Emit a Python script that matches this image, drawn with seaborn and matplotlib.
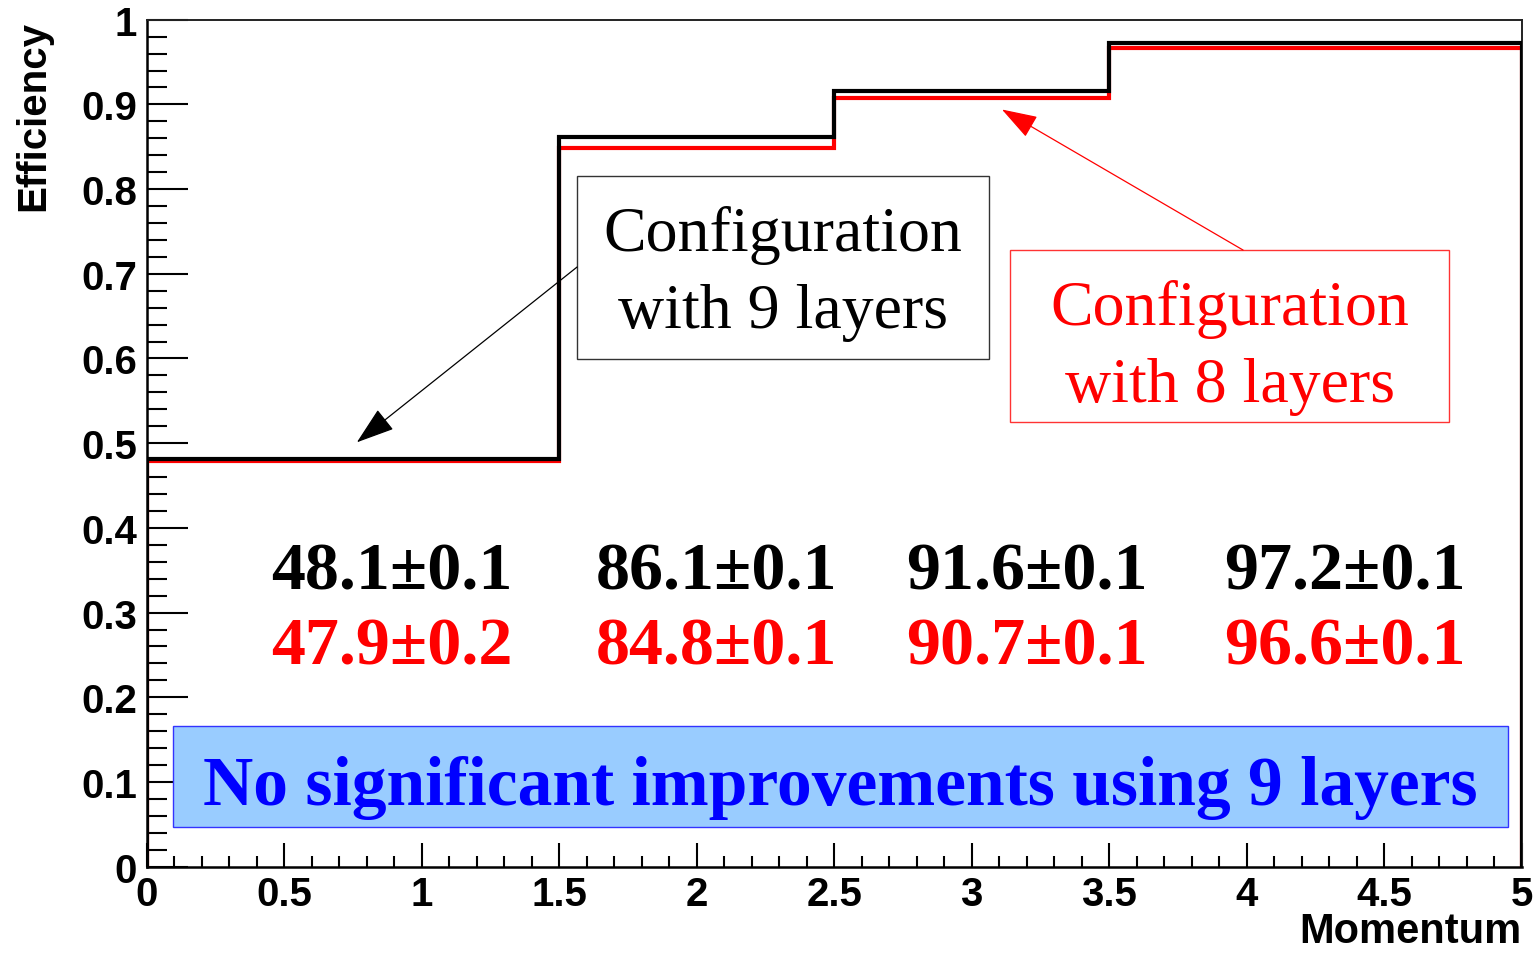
import numpy as np
import pandas as pd
import matplotlib
matplotlib.use("Agg")
import matplotlib.pyplot as plt
from matplotlib.patches import Rectangle
import seaborn as sns

# ---- data ----
bin_edges = [0.0, 1.5, 2.5, 3.5, 5.0]
eff_9layers = [0.481, 0.861, 0.916, 0.972]
eff_8layers = [0.479, 0.848, 0.907, 0.966]
err_9layers = [0.1, 0.1, 0.1, 0.1]
err_8layers = [0.2, 0.1, 0.1, 0.1]
x_ticks = [0, 0.5, 1, 1.5, 2, 2.5, 3, 3.5, 4, 4.5, 5]
x_tick_labels = ["0", "0.5", "1", "1.5", "2", "2.5", "3", "3.5", "4", "4.5", "5"]
y_ticks = [0, 0.1, 0.2, 0.3, 0.4, 0.5, 0.6, 0.7, 0.8, 0.9, 1.0]
y_tick_labels = ["0", "0.1", "0.2", "0.3", "0.4", "0.5", "0.6", "0.7", "0.8", "0.9", "1"]

sns.set_theme(style="white")
plt.rcParams["font.family"] = ["Liberation Sans", "DejaVu Sans"]
plt.rcParams["text.color"] = "black"
plt.rcParams["axes.labelcolor"] = "black"
plt.rcParams["xtick.color"] = "black"
plt.rcParams["ytick.color"] = "black"
plt.rcParams["xtick.labelcolor"] = "black"
plt.rcParams["ytick.labelcolor"] = "black"

SERIF = ["Liberation Serif", "DejaVu Serif"]


def hist_outline(edges, vals):
    edges = np.asarray(edges, float)
    vals = np.asarray(vals, float)
    xs = np.repeat(edges, 2)
    ys = np.concatenate([[0.0], np.repeat(vals, 2), [0.0]])
    return pd.DataFrame({"x": xs, "y": ys})


fig = plt.figure(figsize=(15.35, 9.54), dpi=100)
ax = fig.add_axes([0.0956, 0.0905, 0.8957, 0.8878])

d8 = hist_outline(bin_edges, eff_8layers)
d9 = hist_outline(bin_edges, eff_9layers)
sns.lineplot(data=d8, x="x", y="y", sort=False, estimator=None, color="#ff0000",
             lw=3.0, ax=ax, zorder=3, solid_joinstyle="miter")
sns.lineplot(data=d9, x="x", y="y", sort=False, estimator=None, color="black",
             lw=3.0, ax=ax, zorder=4, solid_joinstyle="miter")

ax.set_xlim(0, 5)
ax.set_ylim(0, 1)

# ticks (ROOT style, inward, left & bottom only)
ax.set_xticks(x_ticks)
ax.set_xticklabels(x_tick_labels)
ax.set_yticks(y_ticks)
ax.set_yticklabels(y_tick_labels)
ax.set_xticks(np.arange(0, 5.0001, 0.1), minor=True)
ax.set_yticks(np.arange(0, 1.0001, 0.02), minor=True)
ax.tick_params(axis="x", which="major", direction="in", length=17.3, width=1.5,
               labelsize=29, pad=6, color="black", labelcolor="black",
               bottom=True, top=False)
ax.tick_params(axis="x", which="minor", direction="in", length=8, width=1.5,
               color="black", bottom=True, top=False)
ax.tick_params(axis="y", which="major", direction="in", length=29.5, width=1.5,
               labelsize=29, pad=7, color="black", labelcolor="black",
               left=True, right=False)
ax.tick_params(axis="y", which="minor", direction="in", length=14.4, width=1.5,
               color="black", left=True, right=False)
for lab in ax.get_xticklabels() + ax.get_yticklabels():
    lab.set_fontweight("bold")

for s in ["left", "bottom"]:
    ax.spines[s].set_linewidth(1.8)
    ax.spines[s].set_color("black")
for s in ["top", "right"]:
    ax.spines[s].set_linewidth(1.4)
    ax.spines[s].set_color("#222222")

ax.set_xlabel("")
ax.set_ylabel("")
ax.text(1.0, -0.0895, "Momentum", transform=ax.transAxes, ha="right", va="baseline",
        fontsize=30, fontweight="bold", color="black")
ax.text(-0.0827, 1.0, "Efficiency", transform=ax.transAxes, ha="center", va="top",
        rotation=90, fontsize=29, fontweight="bold", color="black")

# numbers
label_x = [0.893, 2.073, 3.201, 4.357]
for xp, v, e in zip(label_x, eff_9layers, err_9layers):
    ax.text(xp, 0.329, f"{v*100:.1f}\u00b1{e:.1f}", ha="center", va="baseline",
            fontsize=49, fontweight="bold", family=SERIF, color="black", zorder=6)
for xp, v, e in zip(label_x, eff_8layers, err_8layers):
    ax.text(xp, 0.2393, f"{v*100:.1f}\u00b1{e:.1f}", ha="center", va="baseline",
            fontsize=49, fontweight="bold", family=SERIF, color="#ff0000", zorder=6)

ARROW = "-|>,head_length=0.9,head_width=0.3"

# black box
ax.add_patch(Rectangle((1.565, 0.5994), 3.063 - 1.565, 0.8155 - 0.5994,
                       facecolor="white", edgecolor="#333333", lw=1.0, zorder=5))
ax.text(2.314, 0.728, "Configuration", ha="center", va="baseline", fontsize=46,
        family=SERIF, color="black", zorder=6)
ax.text(2.314, 0.637, "with 9 layers", ha="center", va="baseline", fontsize=46,
        family=SERIF, color="black", zorder=6)
ax.annotate("", xy=(0.764, 0.501), xytext=(1.565, 0.708),
            arrowprops=dict(arrowstyle=ARROW, mutation_scale=27, lw=0.9,
                            color="black", shrinkA=0, shrinkB=0), zorder=6)

# red box
ax.add_patch(Rectangle((3.139, 0.525), 4.736 - 3.139, 0.728 - 0.525,
                       facecolor="white", edgecolor="#ff3333", lw=1.0, zorder=5))
ax.text(3.938, 0.6407, "Configuration", ha="center", va="baseline", fontsize=46,
        family=SERIF, color="#ff0000", zorder=6)
ax.text(3.938, 0.5498, "with 8 layers", ha="center", va="baseline", fontsize=46,
        family=SERIF, color="#ff0000", zorder=6)
ax.annotate("", xy=(3.110, 0.894), xytext=(3.987, 0.728),
            arrowprops=dict(arrowstyle=ARROW, mutation_scale=25, lw=0.9,
                            color="#ff0000", shrinkA=0, shrinkB=0), zorder=6)

# blue box
ax.add_patch(Rectangle((0.0956, 0.0469), 4.950 - 0.0956, 0.1661 - 0.0469,
                       facecolor="#99ccff", edgecolor="#3333ff", lw=1.0, zorder=5))
ax.text(2.523, 0.074, "No significant improvements using 9 layers", ha="center",
        va="baseline", fontsize=50, fontweight="bold", family=SERIF,
        color="#0000ff", zorder=6)

fig.savefig("out.png", dpi=100)
